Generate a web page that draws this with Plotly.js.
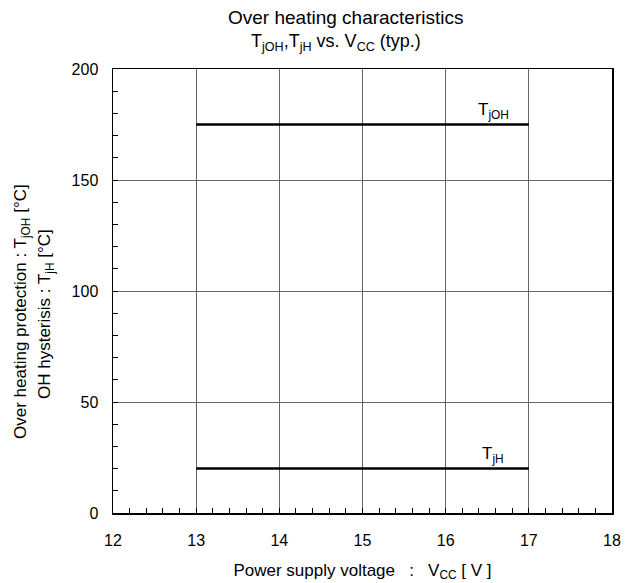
<!DOCTYPE html>
<html>
<head>
<meta charset="utf-8">
<script src="https://cdn.plot.ly/plotly-3.0.1.min.js"></script>
<style>html,body{margin:0;padding:0;background:#fff;}#chart{width:636px;height:583px;}</style>
</head>
<body>
<div id="chart"></div>
<script>
// Data
var vcc = [13, 17];
var tjOH = [175, 175];
var tjH = [20, 20];
var seriesLabels = ['T<sub>jOH</sub>', 'T<sub>jH</sub>'];
var labelX = [16.5, 16.5];
var labelY = [175, 20];
var xTickVals = [12, 13, 14, 15, 16, 17, 18];
var yTickVals = [0, 50, 100, 150, 200];
var titleLines = ['Over heating characteristics', 'T<sub>jOH</sub>,T<sub>jH</sub> vs. V<sub>CC</sub> (typ.)'];
var yTitleLines = ['Over heating protection : T<sub>jOH</sub> [°C]', 'OH hysterisis : T<sub>jH</sub> [°C]'];
var xTitle = 'Power supply voltage\u00a0\u00a0\u00a0:\u00a0\u00a0\u00a0V<sub>CC</sub> [ V ]';

var font = 'Arial, "Liberation Sans", sans-serif';
var W = 636, H = 583, ML = 113, MR = 24, MT = 69, MB = 70;
var pw = W - ML - MR, ph = H - MT - MB;
function px2x(p) { return (p - ML) / pw; }
function px2y(p) { return (H - MB - p) / ph; }

var traces = [
  {x: vcc, y: tjOH, mode: 'lines', line: {color: '#000', width: 2.5}, hoverinfo: 'skip', showlegend: false},
  {x: vcc, y: tjH, mode: 'lines', line: {color: '#000', width: 2.5}, hoverinfo: 'skip', showlegend: false}
];

var annotations = seriesLabels.map(function (t, i) {
  return {x: labelX[i], y: labelY[i], xref: 'x', yref: 'y', text: t, showarrow: false,
    xshift: 6, yanchor: 'bottom', yshift: 1, font: {family: font, size: 17, color: '#000'}};
});
// title lines
annotations.push({xref: 'paper', yref: 'paper', x: px2x(346), y: px2y(18), text: titleLines[0],
  showarrow: false, xanchor: 'center', yanchor: 'middle', font: {family: font, size: 19, color: '#000'}});
annotations.push({xref: 'paper', yref: 'paper', x: px2x(336), y: px2y(42), text: titleLines[1],
  showarrow: false, xanchor: 'center', yanchor: 'middle', font: {family: font, size: 18, color: '#000'}});
// y-axis title lines
annotations.push({xref: 'paper', yref: 'paper', x: px2x(22), y: px2y(312), text: yTitleLines[0], textangle: -90,
  showarrow: false, xanchor: 'center', yanchor: 'middle', font: {family: font, size: 17, color: '#000'}});
annotations.push({xref: 'paper', yref: 'paper', x: px2x(46), y: px2y(314), text: yTitleLines[1], textangle: -90,
  showarrow: false, xanchor: 'center', yanchor: 'middle', font: {family: font, size: 17, color: '#000'}});

var layout = {
  width: W, height: H,
  margin: {l: ML, r: MR, t: MT, b: MB},
  paper_bgcolor: '#fff', plot_bgcolor: '#fff',
  font: {family: font, size: 16, color: '#000'},
  xaxis: {
    range: [12, 18], tickvals: xTickVals, ticktext: xTickVals.map(String),
    showgrid: true, gridcolor: '#666', gridwidth: 1, zeroline: false,
    showline: true, mirror: true, linecolor: '#000', linewidth: 1.5,
    ticks: 'inside', ticklen: 5, tickcolor: '#000',
    minor: {dtick: 0.2, ticks: 'inside', ticklen: 5, tickcolor: '#000', showgrid: false},
    tickfont: {family: font, size: 16}, ticklabelstandoff: 12,
    title: {text: xTitle, font: {family: font, size: 17}, standoff: 16}
  },
  yaxis: {
    range: [0, 200], tickvals: yTickVals, ticktext: yTickVals.map(String),
    showgrid: true, gridcolor: '#666', gridwidth: 1, zeroline: false,
    showline: true, mirror: true, linecolor: '#000', linewidth: 1.5,
    ticks: 'inside', ticklen: 5, tickcolor: '#000',
    minor: {dtick: 10, ticks: 'inside', ticklen: 5, tickcolor: '#000', showgrid: false},
    tickfont: {family: font, size: 16}, ticklabelstandoff: 10
  },
  annotations: annotations
};

Plotly.newPlot('chart', traces, layout, {displayModeBar: false, staticPlot: true});
</script>
</body>
</html>
